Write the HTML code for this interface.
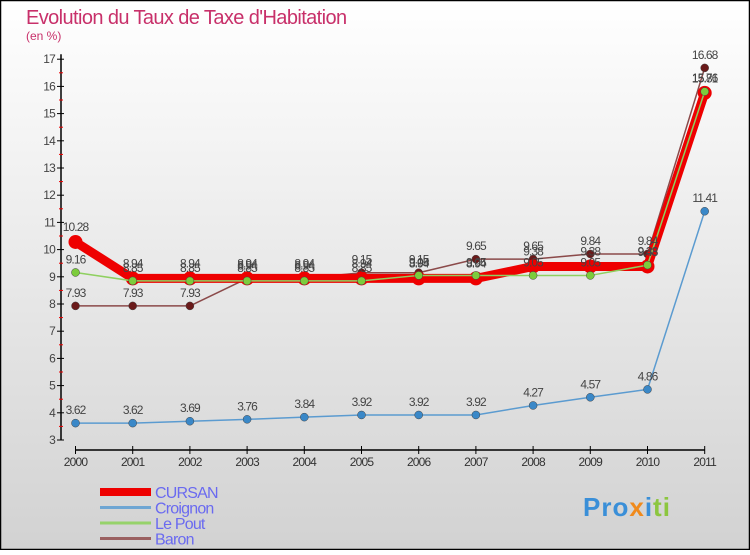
<!DOCTYPE html>
<html><head><meta charset="utf-8">
<style>
html,body{margin:0;padding:0;}
body{width:750px;height:550px;overflow:hidden;font-family:"Liberation Sans",sans-serif;}
svg text{font-family:"Liberation Sans",sans-serif;}
</style></head>
<body>
<svg id="chart" width="750" height="550" viewBox="0 0 750 550" xmlns="http://www.w3.org/2000/svg">
<defs>
<linearGradient id="bg" x1="0" y1="0" x2="0" y2="1">
<stop offset="0" stop-color="#ffffff"/><stop offset="1" stop-color="#d2d2d2"/>
</linearGradient>
</defs>
<rect x="0.5" y="0.5" width="749" height="549" fill="url(#bg)" stroke="#000" stroke-width="1.5"/>
<text x="26" y="24" font-size="20" fill="#c8306a" letter-spacing="-0.6">Evolution du Taux de Taxe d'Habitation</text>
<text x="26" y="40" font-size="12" fill="#c8306a">(en %)</text>
<g id="axes"></g>
<g id="series"></g>
<g id="labels"></g>
<g id="legend"></g>
<text x="583" y="516" font-size="26" font-weight="bold" letter-spacing="1"><tspan fill="#3a8fd8">Pro</tspan><tspan fill="#f08a1c">x</tspan><tspan fill="#3a8fd8">i</tspan><tspan fill="#8cc63f">ti</tspan></text>
</svg>
<script>
const years = [2000,2001,2002,2003,2004,2005,2006,2007,2008,2009,2010,2011];
const cursan = [10.28,8.94,8.94,8.94,8.94,8.94,8.94,8.94,9.38,9.38,9.38,15.76];
const croignon = [3.62,3.62,3.69,3.76,3.84,3.92,3.92,3.92,4.27,4.57,4.86,11.41];
const lePout = [9.16,8.85,8.85,8.85,8.85,8.85,9.05,9.05,9.05,9.05,9.43,15.81];
const baron = [7.93,7.93,7.93,8.94,8.94,9.15,9.15,9.65,9.65,9.84,9.84,16.68];
const yTicks = [3,4,5,6,7,8,9,10,11,12,13,14,15,16,17];
const NS="http://www.w3.org/2000/svg";
function X(i){return 75.5+i*57.2;}
function Y(v){return 440-(v-3)*27.2;}
function mk(tag,attrs,parent){const e=document.createElementNS(NS,tag);for(const k in attrs)e.setAttribute(k,attrs[k]);parent.appendChild(e);return e;}
const axes=document.getElementById('axes');
let yl=mk('line',{x1:61,y1:Y(17)-5,x2:61,y2:Y(3),stroke:'#000','stroke-width':1.5},axes);


yTicks.forEach(v=>{
  let t=mk('line',{x1:57,y1:Y(v),x2:64,y2:Y(v),stroke:'#000'},axes);
  
  
  if(v<17){let m=mk('line',{x1:59,y1:Y(v+0.5),x2:63,y2:Y(v+0.5),stroke:'#e00'},axes);
  
  }
  let tx=mk('text',{x:55,y:Y(v)+4,'font-size':12,fill:'#444','text-anchor':'end','letter-spacing':'-0.8'},axes);
  tx.textContent=v;
  
  
});
let xl=mk('line',{x1:X(0),y1:450,x2:X(11),y2:450,stroke:'#000','stroke-width':1.5},axes);


years.forEach((yr,i)=>{
  let t=mk('line',{x1:X(i),y1:446,x2:X(i),y2:454,stroke:'#000'},axes);
  
  
  let tx=mk('text',{x:X(i),y:466,'font-size':12,fill:'#333','text-anchor':'middle','letter-spacing':'-0.8'},axes);
  tx.textContent=yr;
  
  
});
const ser=document.getElementById('series'), lab=document.getElementById('labels');
const defs=[
 {name:'croignon',data:croignon,color:'#5b9bd0',w:1.5,dot:'#3a88c8',r:4},
 {name:'baron',data:baron,color:'#8b4a4a',w:1.5,dot:'#6a1a1a',r:4},
 {name:'cursan',data:cursan,color:'#ee0000',w:9,dot:'#ee0000',r:7},
 {name:'le-pout',data:lePout,color:'#8fd060',w:1.5,dot:'#7ccc3c',r:4}
];
defs.forEach(d=>{
  const pts=d.data.map((v,i)=>X(i)+','+Y(v)).join(' ');
  let pl=mk('polyline',{points:pts,fill:'none',stroke:d.color,'stroke-width':d.w,'stroke-linejoin':'round'},ser);
  
  
  d.data.forEach((v,i)=>{
    let c=mk('circle',{cx:X(i),cy:Y(v),r:d.r,fill:d.dot,stroke:d.name==='cursan'?'none':'#444','stroke-width':0.5},ser);
    
    
    let t=mk('text',{x:X(i),y:Y(v)-(d.name==='cursan'?11:9),'font-size':12,fill:'#444','text-anchor':'middle','letter-spacing':'-0.9'},lab);
    t.textContent=v;
    
    
  });
});
const leg=document.getElementById('legend');
const legItems=[['CURSAN','#ee0000',8],['Croignon','#6fa6d3',3],['Le Pout','#96d26a',3],['Baron','#9a6060',3]];
legItems.forEach((it,k)=>{
  const y=492+k*15.5;
  let l=mk('line',{x1:100,y1:y,x2:151,y2:y,stroke:it[1],'stroke-width':it[2]},leg);
  
  
  let t=mk('text',{x:155,y:y+6,'font-size':16,fill:'#6a6af0','letter-spacing':'-0.8'},leg);
  t.textContent=it[0];
  
  
});
</script>
</body></html>
